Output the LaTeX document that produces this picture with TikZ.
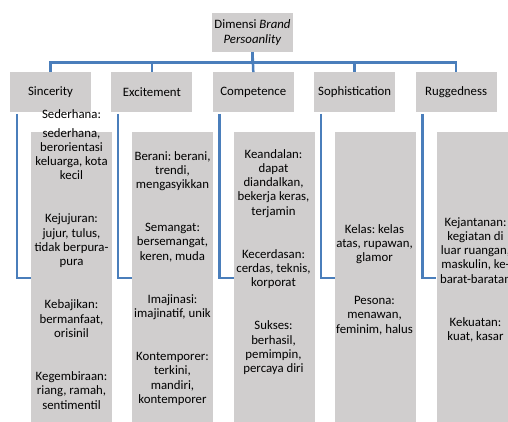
\documentclass[tikz,border=0pt]{standalone}
\usepackage{fontspec}
\setmainfont{Carlito}
\usetikzlibrary{positioning}
\definecolor{boxgray}{RGB}{208,206,206}
\definecolor{linkblue}{RGB}{74,126,187}
\frenchspacing

\begin{document}
\begin{tikzpicture}[x=1pt,y=-1pt,
  font=\fontsize{12.8}{14.3}\selectfont,
  dimbox/.style={fill=boxgray,minimum width=81pt,minimum height=39.5pt,inner sep=0pt,align=center},
  itembox/.style={fill=boxgray,minimum width=81pt,minimum height=292pt,inner sep=0pt},
  itemtext/.style={anchor=north,align=center,inner sep=0pt},
  link/.style={draw=linkblue,line width=2.5pt}]
\useasboundingbox[fill=white] (0,0) rectangle (508,421);
\clip (0,0) rectangle (508,421);
% top box and the five dimensions
\node [dimbox] (top) at (252.5,32.5) {Dimensi \textit{Brand}\\\textit{Persoanlity}};
\node [dimbox] (sinc) at (50.5,92) {Sincerity};
\node [dimbox,right=20pt of sinc] (exci) {Excitement};
\node [dimbox,right=20pt of exci] (comp) {Competence};
\node [dimbox,right=20pt of comp] (soph) {Sophistication};
\node [dimbox,right=20pt of soph] (rugg) {Ruggedness};
% tall boxes below
\node [itembox] (sincitems) at (71.5,278) {};
\node [itembox,right=20pt of sincitems] (exciitems) {};
\node [itembox,right=20pt of exciitems] (compitems) {};
\node [itembox,right=20pt of compitems] (sophitems) {};
\node [itembox,right=20pt of sophitems] (ruggitems) {};
% connectors
\draw [link] (top.south) -- ++(0,10) -| (sinc.north);
\draw [link] (top.south) -- ++(0,10) -| (exci.north);
\draw [link] (top.south) -- (comp.north);
\draw [link] (top.south) -- ++(0,10) -| (soph.north);
\draw [link] (top.south) -- ++(0,10) -| (rugg.north);
\draw [link] ([xshift=7pt,yshift=-2pt]sinc.south west) |- (sincitems.west);
\draw [link] ([xshift=7pt,yshift=-2pt]exci.south west) |- (exciitems.west);
\draw [link] ([xshift=7pt,yshift=-2pt]comp.south west) |- (compitems.west);
\draw [link] ([xshift=7pt,yshift=-2pt]soph.south west) |- (sophitems.west);
\draw [link] ([xshift=7pt,yshift=-2pt]rugg.south west) |- (ruggitems.west);
% texts
\node [itemtext] (sinctext) at (71.5,109) {Sederhana:\\[4.7pt]sederhana,\\berorientasi\\keluarga, kota\\kecil\\[28.7pt]Kejujuran:\\jujur, tulus,\\tidak berpura-\\pura\\[28.7pt]Kebajikan:\\bermanfaat,\\orisinil\\[28.7pt]Kegembiraan:\\riang, ramah,\\sentimentil};
\node [itemtext] (excitext) at (172.5,151) {Berani: berani,\\trendi,\\mengasyikkan\\[28.7pt]Semangat:\\bersemangat,\\keren, muda\\[28.7pt]Imajinasi:\\imajinatif, unik\\[28.7pt]Kontemporer:\\terkini,\\mandiri,\\kontemporer};
\node [itemtext] (comptext) at (273.5,149) {Keandalan:\\dapat\\diandalkan,\\bekerja keras,\\terjamin\\[28.7pt]Kecerdasan:\\cerdas, teknis,\\korporat\\[28.7pt]Sukses:\\berhasil,\\pemimpin,\\percaya diri};
\node [itemtext] (sophtext) at (374.5,224) {Kelas: kelas\\atas, rupawan,\\glamor\\[28.7pt]Pesona:\\menawan,\\feminim, halus};
\node [itemtext] (ruggtext) at (475.5,217) {Kejantanan:\\kegiatan di\\luar ruangan,\\maskulin, ke-\\barat-baratan\\[28.7pt]Kekuatan:\\kuat, kasar};
\end{tikzpicture}
\end{document}
